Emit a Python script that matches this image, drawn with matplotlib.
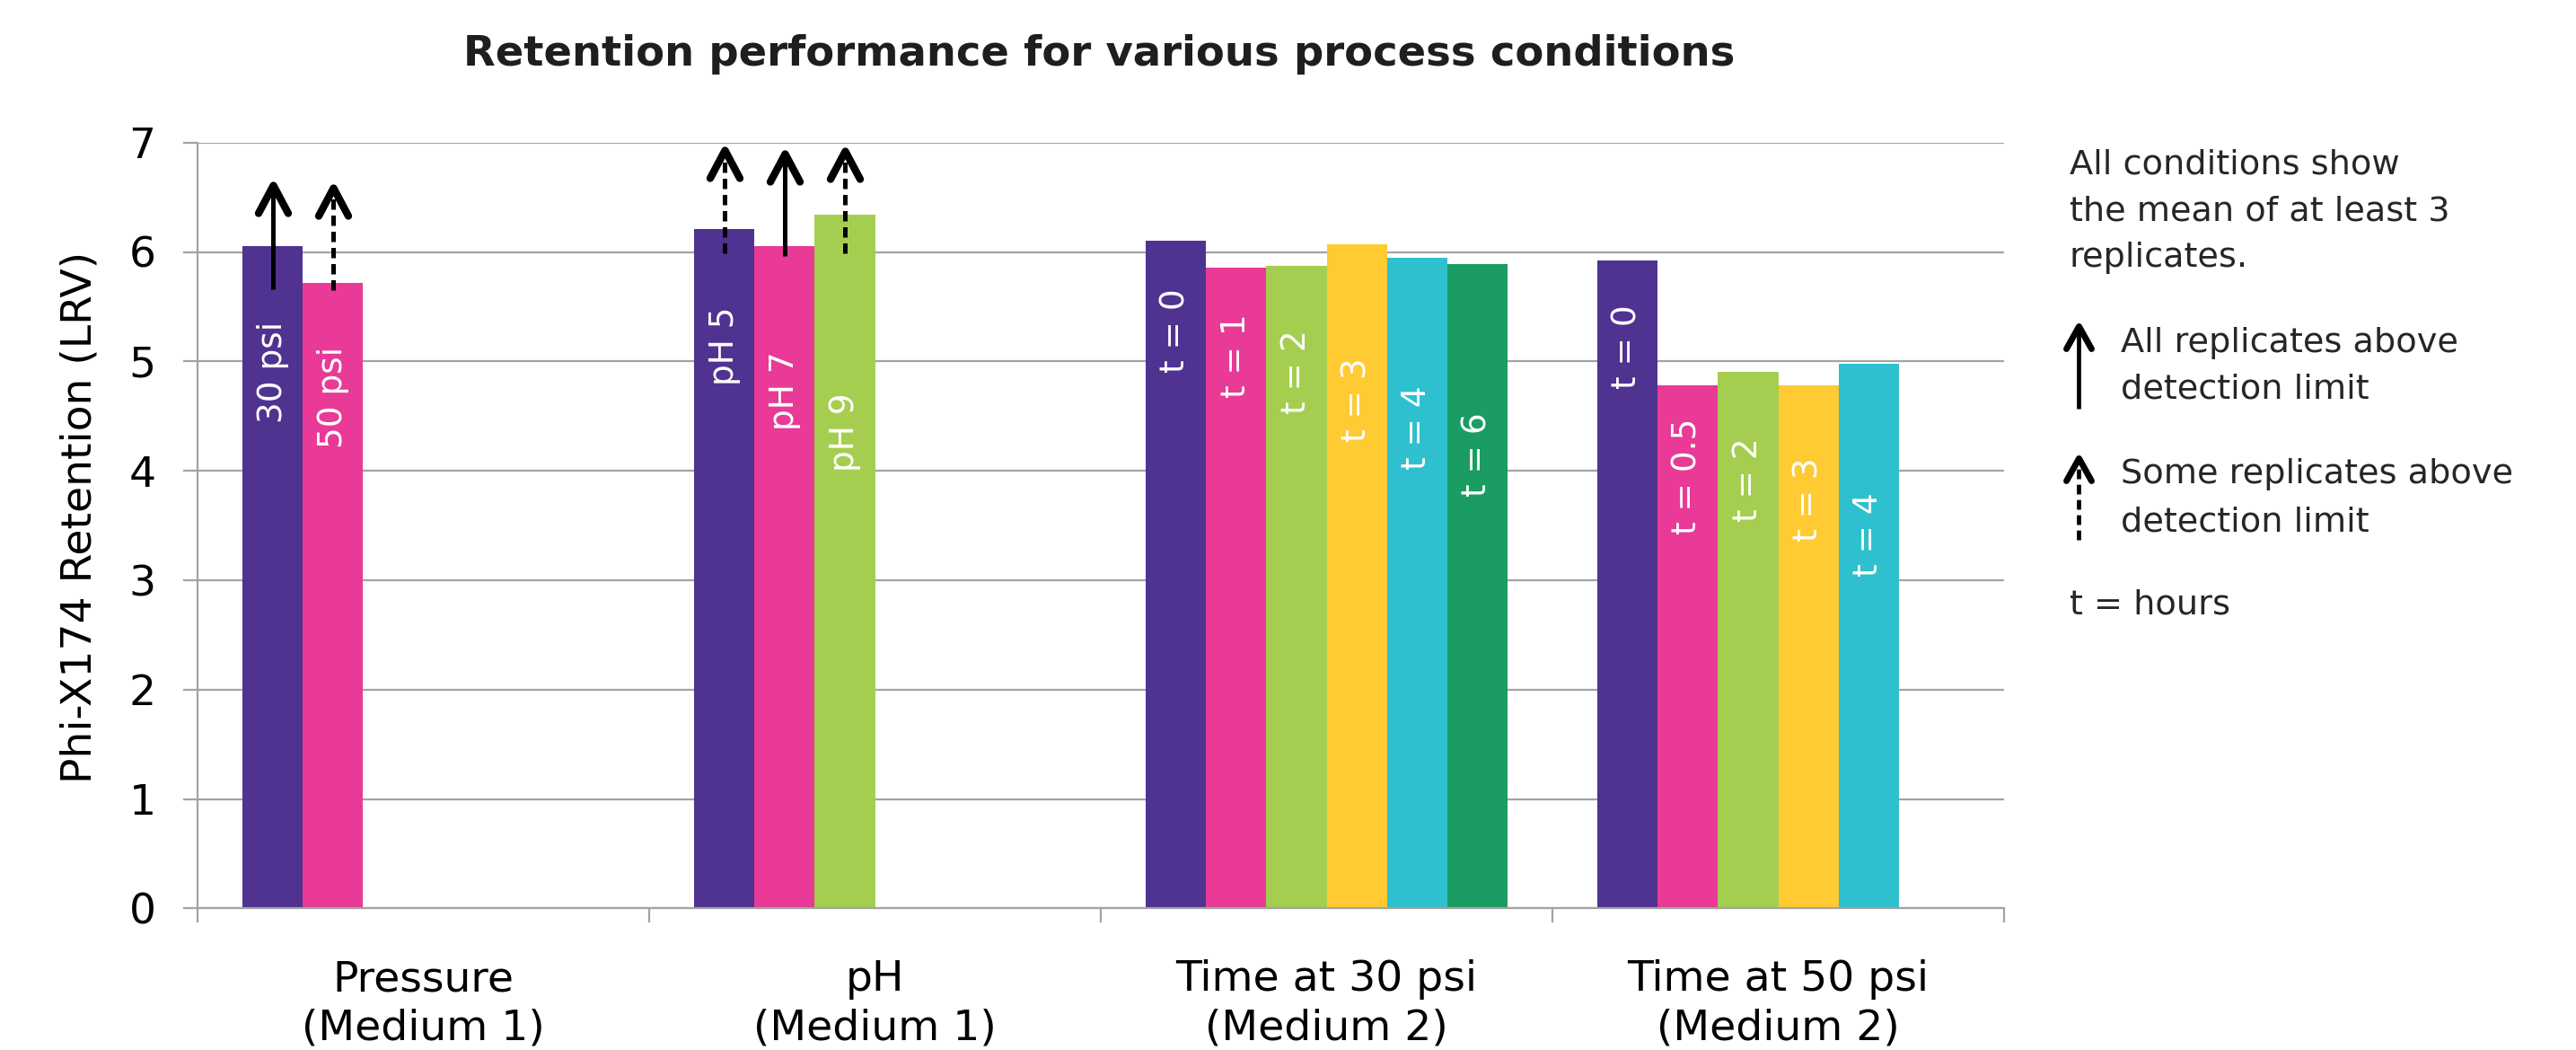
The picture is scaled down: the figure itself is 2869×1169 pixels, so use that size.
import matplotlib
matplotlib.use("Agg")
import matplotlib.pyplot as plt
import numpy as np
from matplotlib.path import Path
from matplotlib.markers import MarkerStyle
from matplotlib.lines import Line2D

plt.rcParams['font.family'] = ['DejaVu Sans']

# ---------------- data ----------------
title = "Retention performance for various process conditions"
y_label = "Phi-X174 Retention (LRV)"
category_line1 = ["Pressure", "pH", "Time at 30 psi", "Time at 50 psi"]
category_line2 = ["(Medium 1)", "(Medium 1)", "(Medium 2)", "(Medium 2)"]

pressure_values = [6.05, 5.72]
ph_values = [6.21, 6.05, 6.34]
time30_values = [6.10, 5.86, 5.87, 6.07, 5.95, 5.89]
time50_values = [5.92, 4.78, 4.90, 4.78, 4.98]
values = [pressure_values, ph_values, time30_values, time50_values]

bar_labels = [
    ["30 psi", "50 psi"],
    ["pH 5", "pH 7", "pH 9"],
    ["t = 0", "t = 1", "t = 2", "t = 3", "t = 4", "t = 6"],
    ["t = 0", "t = 0.5", "t = 2", "t = 3", "t = 4"],
]
# vertical centre of each in-bar label (LRV units)
label_centers = [
    [4.90, 4.67],
    [5.14, 4.73, 4.35],
    [5.28, 5.05, 4.90, 4.65, 4.39, 4.15],
    [5.13, 3.95, 3.92, 3.74, 3.42],
]

series_colors = ["#503291", "#E83A96", "#A5CE50", "#FFCA32", "#2EC0CE", "#1B9C62"]

# detection-limit arrows (first two categories)
arrow_kind = [["solid", "dashed"], ["dashed", "solid", "dashed"]]
arrow_from = [[5.66, 5.65], [5.99, 5.96, 5.99]]
arrow_to = [[6.61, 6.59], [6.93, 6.90, 6.92]]

legend_block1 = ["All conditions show", "the mean of at least 3", "replicates."]
legend_solid = ["All replicates above", "detection limit"]
legend_dashed = ["Some replicates above", "detection limit"]
legend_hours = "t = hours"

# ---------------- figure ----------------
W, H, DPI = 2869, 1169, 100
fig = plt.figure(figsize=(W / DPI, H / DPI), dpi=DPI)

def fx(px):
    return px / W

def fy(py):
    return 1 - py / H

ax = fig.add_axes([fx(220), fy(1011.3), (2232 - 220) / W, (1011.3 - 158.7) / H])

grid_col = "#a3a3a3"
n_slots = 6
w = 1.0 / (n_slots + 1.5)

ncat = len(values)
for j in range(n_slots):
    xs, hs = [], []
    for i in range(ncat):
        if j < len(values[i]):
            xs.append(i - 0.5 + 0.75 * w + (j + 0.5) * w)
            hs.append(values[i][j])
    ax.bar(xs, hs, width=w, color=series_colors[j], linewidth=0, zorder=2)

# in-bar labels
for i in range(ncat):
    for j, lab in enumerate(bar_labels[i]):
        x = i - 0.5 + 0.75 * w + (j + 0.5) * w
        ax.text(x, label_centers[i][j], lab, rotation=90, color="white",
                fontsize=27, ha="center", va="center", zorder=4)

# arrows
def chevron(w_px, h_px):
    verts = [(-w_px / 2, -h_px), (0, 0), (w_px / 2, -h_px)]
    path = Path(verts, [Path.MOVETO, Path.LINETO, Path.LINETO])
    ms = 2 * max(h_px, w_px / 2) * 72 / DPI
    return MarkerStyle(path, fillstyle="none", capstyle="round", joinstyle="round"), ms

head, head_ms = chevron(33, 31)
dash_pattern = (0, (2.3, 1.3))
for i in range(len(arrow_kind)):
    for j, kind in enumerate(arrow_kind[i]):
        x = i - 0.5 + 0.75 * w + (j + 0.5) * w
        ls = "-" if kind == "solid" else dash_pattern
        ax.plot([x, x], [arrow_from[i][j], arrow_to[i][j] - 0.02], color="black",
                lw=3.6, ls=ls, solid_capstyle="butt", dash_capstyle="butt", zorder=5)
        ax.plot([x], [arrow_to[i][j]], marker=head, markersize=head_ms,
                mec="black", mew=6, ls="none", zorder=6)

ax.set_xlim(-0.5, 3.5)
ax.set_ylim(0, 7)
ax.set_yticks(range(0, 8))
ax.set_xticks([-0.5, 0.5, 1.5, 2.5, 3.5])
ax.set_xticklabels([])
ax.yaxis.grid(True, color=grid_col, lw=1.6, zorder=0)
ax.set_axisbelow(True)
for s in ["top", "right"]:
    ax.spines[s].set_visible(False)
for s in ["left", "bottom"]:
    ax.spines[s].set_color(grid_col)
    ax.spines[s].set_linewidth(1.6)
ax.tick_params(axis="both", direction="out", length=11.5, width=1.6, color=grid_col)
ax.tick_params(axis="y", labelsize=34, pad=22, labelcolor="black")

ax.set_ylabel(y_label, fontsize=34, color="black")
ax.yaxis.set_label_coords(-0.0537, 0.511)

xt = ax.get_xaxis_transform()
for i in range(ncat):
    ax.text(i, -(1103 - 1011.3) / 852.6, category_line1[i], transform=xt,
            ha="center", va="baseline", fontsize=34, color="black")
    ax.text(i, -(1158 - 1011.3) / 852.6, category_line2[i], transform=xt,
            ha="center", va="baseline", fontsize=34, color="black")

# title
fig.text(fx(1224), fy(73), title, ha="center", va="baseline",
         fontsize=33.5, fontweight="bold", color="#1e1e1e")

# right-hand notes
note_col = "#262626"
note_fs = 27.5
for k, line in enumerate(legend_block1):
    fig.text(fx(2305), fy(193 + 52 * k), line, fontsize=note_fs, color=note_col, va="baseline")
for k, line in enumerate(legend_solid):
    fig.text(fx(2362), fy(392 + 52 * k), line, fontsize=note_fs, color=note_col, va="baseline")
for k, line in enumerate(legend_dashed):
    fig.text(fx(2362), fy(538 + 53 * k), line, fontsize=note_fs, color=note_col, va="baseline")
fig.text(fx(2305), fy(683), legend_hours, fontsize=note_fs, color=note_col, va="baseline")

lhead, lhead_ms = chevron(28, 25)
lx = fx(2315)
fig.add_artist(Line2D([lx, lx], [fy(454.5), fy(366)], transform=fig.transFigure,
                      color="black", lw=3.4, solid_capstyle="butt"))
fig.add_artist(Line2D([lx], [fy(363)], transform=fig.transFigure, marker=lhead,
                      markersize=lhead_ms, mec="black", mew=5, ls="none"))
fig.add_artist(Line2D([lx, lx], [fy(600.7), fy(513)], transform=fig.transFigure,
                      color="black", lw=3.4, ls=dash_pattern, dash_capstyle="butt"))
fig.add_artist(Line2D([lx], [fy(510)], transform=fig.transFigure, marker=lhead,
                      markersize=lhead_ms, mec="black", mew=5, ls="none"))

fig.savefig("out.png", dpi=DPI, facecolor="white")
